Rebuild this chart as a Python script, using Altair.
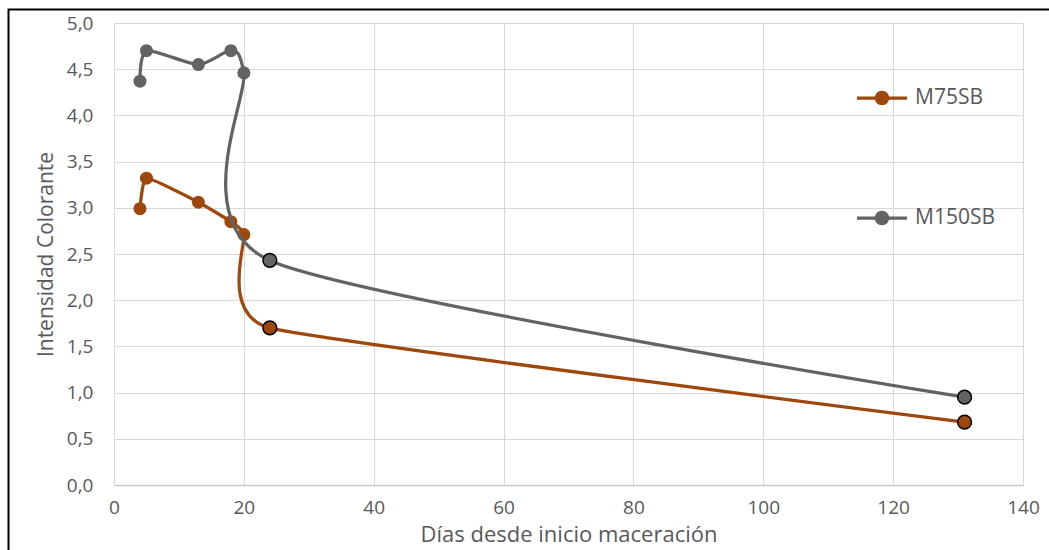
import altair as alt
import pandas as pd

# Días desde el inicio de la maceración y la intensidad colorante de cada vino
dias = [4, 5, 13, 18, 20, 24, 131]
m75sb = [2.99, 3.32, 3.06, 2.85, 2.71, 1.70, 0.68]
m150sb = [4.37, 4.70, 4.55, 4.70, 4.46, 2.43, 0.95]

series = ["M75SB", "M150SB"]
colores = ["#9E480E", "#636363"]
# smoothing tension of each series' curve
tensiones = [0.58, 0.3]

x_ticks = [0, 20, 40, 60, 80, 100, 120, 140]
y_ticks = [0.0, 0.5, 1.0, 1.5, 2.0, 2.5, 3.0, 3.5, 4.0, 4.5, 5.0]

rows = []
for nombre, valores in zip(series, [m75sb, m150sb]):
    for i, (d, v) in enumerate(zip(dias, valores)):
        rows.append({"dia": d, "valor": v, "serie": nombre, "orden": i})
df = pd.DataFrame(rows)

FONT = "Open Sans"
GRIS_TEXTO = "#595959"
W, H = 909, 462
PAD = {"left": 114, "top": 23, "right": 26, "bottom": 65}

escala_color = alt.Scale(domain=series, range=colores)

x_enc = alt.X(
    "dia:Q",
    scale=alt.Scale(domain=[0, 140], nice=False),
    axis=alt.Axis(values=x_ticks, title="Días desde inicio maceración", format="d"),
)
y_enc = alt.Y(
    "valor:Q",
    scale=alt.Scale(domain=[0, 5], nice=False),
    axis=alt.Axis(
        values=y_ticks,
        title="Intensidad Colorante",
        labelExpr="replace(format(datum.value, '.1f'), '.', ',')",
    ),
)

# Legend symbol: a short line with a dot in its middle
simbolo = (
    "M-1,-0.065H1V0.065H-1Z "
    "M0.29,0A0.29,0.29,0,1,1,-0.29,0A0.29,0.29,0,1,1,0.29,0Z"
)
leyenda = alt.Legend(
    title=None,
    orient="none",
    legendX=743,
    legendY=50,
    direction="vertical",
    symbolType=simbolo,
    symbolSize=2500,
    symbolStrokeWidth=0,
    symbolOpacity=1,
    labelFont=FONT,
    labelFontSize=21,
    labelColor=GRIS_TEXTO,
    labelOffset=8,
    rowPadding=85,
    padding=0,
)

base = alt.Chart(df)


def capas(nombre, color, tension):
    d = base.transform_filter(alt.datum.serie == nombre)
    linea = d.mark_line(
        interpolate="cardinal", tension=tension, strokeWidth=3.25, color=color
    ).encode(x=x_enc, y=y_enc, order="orden:Q")
    puntos = (
        d.transform_filter(alt.datum.dia < 24)
        .mark_circle(size=170, opacity=1)
        .encode(
            x=x_enc,
            y=y_enc,
            fill=alt.Fill("serie:N", scale=escala_color, legend=leyenda),
        )
    )
    grandes = (
        d.transform_filter(alt.datum.dia >= 24)
        .mark_circle(size=190, opacity=1, stroke="black", strokeWidth=1.5)
        .encode(
            x=x_enc,
            y=y_enc,
            fill=alt.Fill("serie:N", scale=escala_color, legend=leyenda),
        )
    )
    return [linea, puntos, grandes]


# Outer chart frame
marco = (
    alt.Chart(alt.Data(values=[{}]))
    .mark_rect(fillOpacity=0, stroke="black", strokeWidth=2)
    .encode(
        x=alt.value(-105.5),
        x2=alt.value(W + 60),
        y=alt.value(-13.5),
        y2=alt.value(H + 120),
    )
)

chart = (
    alt.layer(
        *capas(series[0], colores[0], tensiones[0]),
        *capas(series[1], colores[1], tensiones[1]),
        marco,
    )
    .properties(
        width=W,
        height=H,
        autosize=alt.AutoSizeParams(type="none"),
        padding=PAD,
        background="white",
    )
    .configure_view(stroke=None)
    .configure_axis(
        grid=True,
        gridColor="#D9D9D9",
        gridWidth=1,
        ticks=False,
        tickSize=0,
        labelFlush=False,
        labelFont=FONT,
        labelFontSize=19,
        labelColor=GRIS_TEXTO,
        titleFont=FONT,
        titleFontWeight="normal",
        titleColor=GRIS_TEXTO,
    )
    .configure_axisX(
        domainColor="#C8C8C8",
        domainWidth=1.5,
        labelPadding=13,
        titlePadding=7,
        titleFontSize=22,
    )
    .configure_axisY(
        domain=False,
        labelPadding=21,
        titlePadding=10,
        titleFontSize=21,
    )
)

chart.save("out.html", embed_options={"renderer": "svg", "actions": False})
